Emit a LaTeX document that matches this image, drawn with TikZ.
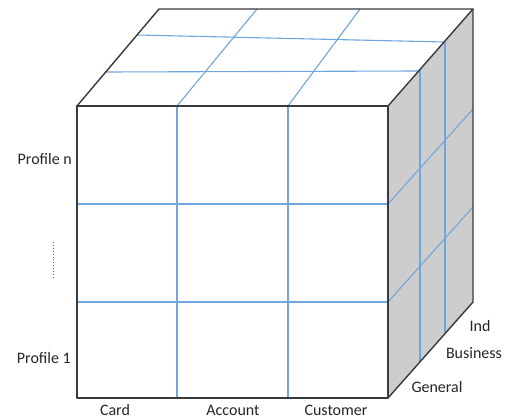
\documentclass[tikz,border=0pt]{standalone}
\usepackage{fontspec}
\setmainfont{Carlito}
\definecolor{edge}{HTML}{3A3A3A}
\definecolor{grid}{HTML}{6FA6DC}
\definecolor{side}{HTML}{CDCDCD}
\begin{document}
\begin{tikzpicture}[x=1pt,y=-1pt,
  outline/.style={draw=edge,line width=1.4pt,line join=round},
  gridline/.style={draw=grid,line width=1.1pt},
  lbl/.style={font=\fontsize{16}{19}\selectfont,inner sep=0pt,text=black!85}]
\useasboundingbox (0,0) rectangle (506,420);
% cube corners
\coordinate (FTL) at (77,106);
\coordinate (FTR) at (388,106);
\coordinate (FBL) at (77,398);
\coordinate (FBR) at (388,398);
\coordinate (BTL) at (159,9);
\coordinate (BTR) at (473,9);
\coordinate (BBR) at (473,302);
% shaded right face
\fill[side] (FTR) -- (BTR) -- (BBR) -- (FBR) -- cycle;
% front face grid
\draw[gridline] (177,106) -- (177,398);
\draw[gridline] (288,106) -- (288,398);
\draw[gridline] (77,204) -- (388,204);
\draw[gridline] (77,302) -- (388,302);
% top face grid
\draw[gridline] (137,35) -- (444,42);
\draw[gridline] (106,72) -- (419,71);
\draw[gridline] (177,106) -- (257,9);
\draw[gridline] (288,106) -- (360,9);
% right face grid
\draw[gridline] (420,70) -- (420,362);
\draw[gridline] (445,42) -- (445,333);
\draw[gridline] (388,204) -- (473,109);
\draw[gridline] (388,302) -- (473,207);
% cube outline
\draw[outline] (FTL) rectangle (FBR);
\draw[outline] (FTL) -- (BTL) -- (BTR) -- (FTR);
\draw[outline] (BTR) -- (BBR) -- (FBR);
% row labels
\node[lbl,anchor=east] (pn) at (72,159) {Profile n};
\node[lbl,anchor=east] (p1) at (71,358) {Profile 1};
\coordinate (dA) at (53,242);
\coordinate (dB) at (53,277);
\draw[black!60,line width=0.9pt,dotted] (dA) -- (dB);
% column labels
\node[lbl] (card) at (115,410) {Card};
\node[lbl] (acct) at (233,410) {Account};
\node[lbl] (cust) at (336,410) {Customer};
% depth labels
\node[lbl] (gen) at (437,387) {General};
\node[lbl] (bus) at (474,353) {Business};
\node[lbl] (ind) at (480,326) {Ind};
\end{tikzpicture}
\end{document}
